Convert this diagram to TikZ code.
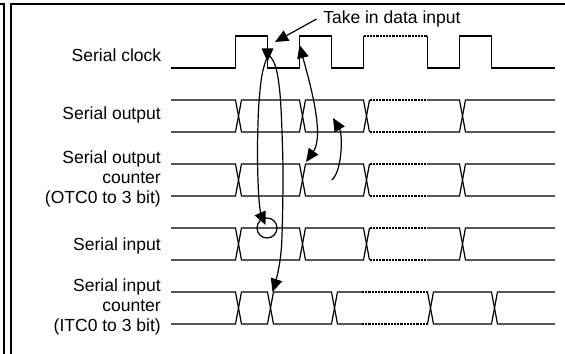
\documentclass[tikz,border=0pt]{standalone}
\usepackage{fontspec}
\setmainfont{Liberation Sans}
\usetikzlibrary{arrows.meta,positioning}

\tikzset{
  sig/.style={line width=0.3mm},
  brk/.style={line width=0.55mm,dash pattern=on 0.55mm off 0.25mm},
  frm/.style={line width=0.4mm},
  tip/.tip={Triangle[length=3.3mm,width=2.9mm]},
  arr/.style={line width=0.3mm,-tip},
  lbl/.style={anchor=east,align=right,inner sep=0pt,font=\fontsize{12.45}{14.2}\selectfont},
}

\begin{document}
\begin{tikzpicture}[x=0.25mm,y=0.25mm]
  \useasboundingbox (0,0) rectangle (565,354);
  % frame
  \draw[frm] (0,350) -- (4,350) -- (4,0);
  \draw[frm] (11,0) -- (11,350) -- (565,350);

  % signal names
  \node[lbl] (sck) at (161.5,299) {Serial clock};
  \node[lbl] (so)  at (161,239) {Serial output};
  \node[lbl] (soc) at (161,175) {Serial output\\counter\\(OTC0 to 3 bit)};
  \node[lbl] (si)  at (161,108) {Serial input};
  \node[lbl] (sic) at (161,47)  {Serial input\\counter\\(ITC0 to 3 bit)};

  % serial clock
  \draw[sig] (171,286) -- (235.5,286) -- (235.5,318) -- (267.5,318) -- (267.5,286)
    -- (299.5,286) -- (299.5,318) -- (331.5,318) -- (331.5,286) -- (363.5,286) -- (363.5,318);
  \draw[brk] (363.5,318) -- (427.5,318);
  \draw[sig] (427.5,318) -- (427.5,286) -- (459.5,286) -- (459.5,318) -- (491.5,318)
    -- (491.5,286) -- (555,286);

  % serial output, output counter, serial input
  \foreach \t in {254,190,126}{
    \draw[sig] (171,\t) -- (235.5,\t) -- (241.5,\t-32) -- (299.5,\t-32) -- (305.5,\t)
      -- (363.5,\t) -- (369.5,\t-32);
    \draw[sig] (171,\t-32) -- (235.5,\t-32) -- (241.5,\t) -- (299.5,\t) -- (305.5,\t-32)
      -- (363.5,\t-32) -- (369.5,\t);
    \draw[brk] (369.5,\t) -- (427,\t);
    \draw[brk] (369.5,\t-32) -- (427,\t-32);
    \draw[sig] (427,\t) -- (459.5,\t) -- (465.5,\t-32) -- (555,\t-32);
    \draw[sig] (427,\t-32) -- (459.5,\t-32) -- (465.5,\t) -- (555,\t);
  }

  % serial input counter
  \draw[sig] (171,62) -- (235.5,62) -- (241.5,30) -- (267.5,30) -- (273.5,62)
    -- (331.5,62) -- (337.5,30) -- (362,30);
  \draw[sig] (171,30) -- (235.5,30) -- (241.5,62) -- (267.5,62) -- (273.5,30)
    -- (331.5,30) -- (337.5,62) -- (362,62);
  \draw[brk] (362,62) -- (427.5,62);
  \draw[brk] (362,30) -- (427.5,30);
  \draw[sig] (427.5,62) -- (433.5,30) -- (491.5,30) -- (497.5,62) -- (555,62);
  \draw[sig] (427.5,30) -- (433.5,62) -- (491.5,62) -- (497.5,30) -- (555,30);

  % take in data input
  \node[anchor=west,inner sep=0pt,font=\fontsize{12.45}{14.2}\selectfont] (take) at (323,335) {Take in data input};
  \coordinate (fall1) at (275,312);
  \draw[arr] ([xshift=-1.6mm]take.west) -- (fall1);
  \draw[arr] (267.5,318) -- (267.5,292.3);

  % sampling point of serial input
  \draw[sig] (267,126) circle[radius=10];
  \draw[sig,tip-tip] plot[smooth] coordinates {(265.5,129) (259.5,149) (257.5,194)
    (258.5,244) (262,279) (268.5,298) (276,286) (280.5,254) (283,184) (281.7,111)
    (278,82) (272.5,62)};

  % output counter timing
  \draw[sig,tip-tip] (299.5,309) .. controls (309,274) and (325,219) .. (306,192);
  \draw[arr] (331.7,174) .. controls (342,182) and (343,219) .. (333,236);
\end{tikzpicture}
\end{document}
